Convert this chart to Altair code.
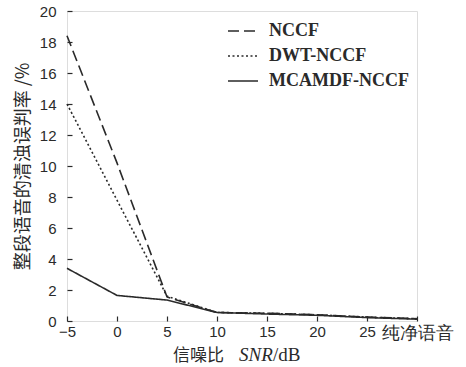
import altair as alt
import pandas as pd

snr = [-5, 0, 5, 10, 15, 20, 25, 30]
nccf = [18.4, 10.2, 1.55, 0.55, 0.5, 0.4, 0.25, 0.15]
dwt = [14.0, 7.8, 1.6, 0.55, 0.5, 0.4, 0.25, 0.15]
mcamdf = [3.4, 1.65, 1.35, 0.55, 0.45, 0.37, 0.22, 0.12]
series = ["NCCF", "DWT-NCCF", "MCAMDF-NCCF"]
x_ticks = [-5, 0, 5, 10, 15, 20, 25, 30]
y_ticks = list(range(0, 21, 2))

rows = []
for name, vals in zip(series, [nccf, dwt, mcamdf]):
    for x, v in zip(snr, vals):
        rows.append({"snr": x, "rate": v, "method": name})
df = pd.DataFrame(rows)

W, H = 350, 310
ink = "#2a2a2a"

lines = alt.Chart(df).mark_line(strokeWidth=1.6, color=ink).encode(
    x=alt.X("snr:Q", scale=alt.Scale(domain=[-5, 30], nice=False, zero=False),
            axis=alt.Axis(values=x_ticks, title=None, grid=False, domain=False,
                          tickSize=5, offset=-5, tickColor=ink, tickWidth=1.2,
                          labelPadding=3, labelFont="Liberation Sans",
                          labelFontSize={"condition": {"test": "datum.value == 30", "value": 17.5}, "value": 15},
                          labelColor=ink,
                          labelExpr="datum.value == 30 ? '纯净语音' : datum.label",
                          labelFlush=False)),
    y=alt.Y("rate:Q", scale=alt.Scale(domain=[0, 20], nice=False),
            axis=alt.Axis(values=y_ticks, title="整段语音的清浊误判率 /%", grid=False,
                          domain=False, tickSize=5, offset=-5, tickColor=ink,
                          tickWidth=1.2, labelPadding=11, labelFont="Liberation Sans",
                          labelFontSize=15, labelColor=ink,
                          titleFont="Noto Sans CJK SC", titleFontSize=18,
                          titleFontWeight="normal", titleColor=ink, titlePadding=7)),
    strokeDash=alt.StrokeDash("method:N",
        scale=alt.Scale(domain=series, range=[[11, 5], [2, 2.5], [1, 0]]),
        legend=alt.Legend(title=None, orient="none", legendX=160, legendY=4,
                          symbolType="stroke", symbolSize=900, symbolStrokeWidth=1.6,
                          symbolStrokeColor=ink, labelFont="Liberation Serif",
                          labelFontSize=18, labelFontWeight="bold", labelColor=ink,
                          rowPadding=-6, labelOffset=10)),
)

one = pd.DataFrame({"a": [0]})
t1 = alt.Chart(one).mark_text(align="left", baseline="alphabetic", font="Noto Sans CJK SC",
                              fontSize=17, color=ink).encode(
    x=alt.value(106), y=alt.value(350), text=alt.value("信噪比"))
t2 = alt.Chart(one).mark_text(align="left", baseline="alphabetic", font="Liberation Serif",
                              fontSize=19, fontStyle="italic", color=ink).encode(
    x=alt.value(172), y=alt.value(350), text=alt.value("SNR"))
t3 = alt.Chart(one).mark_text(align="left", baseline="alphabetic", font="Liberation Serif",
                              fontSize=19, color=ink).encode(
    x=alt.value(206), y=alt.value(350), text=alt.value("/dB"))

chart = alt.layer(lines, t1, t2, t3).properties(
    width=W, height=H,
    autosize=alt.AutoSizeParams(type="none"),
    padding={"left": 67, "top": 11, "right": 49, "bottom": 46},
).configure_view(stroke=ink, strokeWidth=1.6).configure(background="white")

chart.save("out.html", embed_options={"renderer": "svg", "actions": False})
